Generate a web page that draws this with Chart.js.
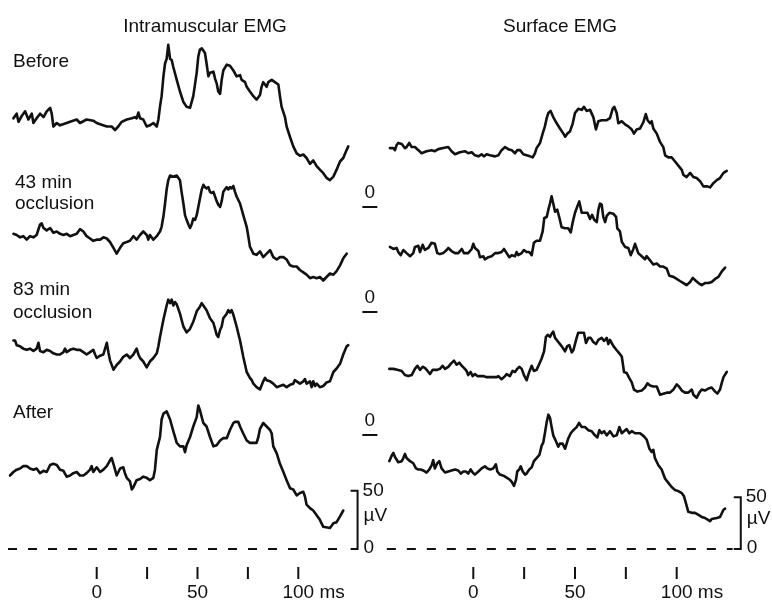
<!DOCTYPE html>
<html>
<head>
<meta charset="utf-8">
<title>Intramuscular and surface EMG</title>
<script src="https://cdn.jsdelivr.net/npm/chart.js@4.4.1/dist/chart.umd.min.js"></script>
<style>
  html, body { margin: 0; padding: 0; background: #fff; }
  canvas { display: block; }
</style>
</head>
<body>
<canvas id="chart" width="772" height="603"></canvas>
<script>
// traces as [ms, µV], µV counted from each row's own zero level
const imBefore = [[-41.3,76],[-39.7,80],[-38.8,73],[-37.2,78],[-35.5,82],[-33.9,75],[-32.2,80],[-31.4,72],[-29.8,76],[-28.1,80],[-26.4,77],[-24.8,82],[-23.1,85],[-22.3,80],[-21.5,69],[-19.8,72],[-18.2,70],[-14.9,72],[-13.2,73],[-9.9,75],[-8.3,72],[-5,75],[-1.7,74],[0,72],[1.7,71],[5,69],[7.4,69],[9.1,66],[10.7,69],[12.4,73],[14.9,75],[17.4,76],[19,77],[19.8,76],[20.7,81],[21.5,76],[23.1,75],[24.8,69],[26.4,70],[28.1,72],[29.8,69],[30.6,75],[31.4,86],[32.2,95],[33.1,112],[33.9,123],[34.7,127],[35.5,139],[36.4,127],[37.2,126],[38,120],[39.7,109],[41.3,99],[43,90],[44.6,86],[46.3,85],[47.9,95],[49.6,115],[50.4,129],[51.2,135],[52.1,136],[53.7,132],[54.5,123],[55.4,112],[56.2,115],[57.9,116],[58.7,110],[59.5,106],[60.3,99],[61.2,97],[62,109],[62.8,117],[64.5,122],[66.1,121],[67.8,117],[69.4,112],[71.1,113],[71.9,109],[73.6,107],[74.4,103],[76,99],[77.7,95],[79.3,92],[81,96],[81.8,103],[82.6,107],[84.3,103],[85.1,107],[86.8,109],[88.4,107],[90.1,105],[90.9,95],[91.7,86],[93.4,77],[94.2,69],[95.9,60],[97.5,52],[99.2,46],[100.8,44],[102.5,45],[104.1,42],[105.8,37],[107.4,40],[109.1,35],[110.7,32],[112.4,29],[114,25],[115.7,23],[117.4,26],[119,32],[120.7,39],[122.3,42],[124,49],[124.8,52]];
const im43 = [[-41.3,67],[-39.7,66],[-38,64],[-36.4,65],[-34.7,62],[-33.1,65],[-31.4,64],[-29.8,66],[-28.1,75],[-27.3,76],[-26.4,72],[-24.8,70],[-23.1,72],[-21.5,68],[-19.8,69],[-18.2,67],[-16.5,66],[-14.9,67],[-13.2,65],[-11.6,66],[-9.9,67],[-8.3,71],[-6.6,69],[-5,65],[-3.3,63],[-1.7,61],[0,62],[1.7,62],[3.3,64],[5,63],[6.6,60],[8.3,55],[9.9,50],[11.6,55],[13.2,59],[14.9,60],[16.5,61],[18.2,65],[19.8,62],[21.5,66],[23.1,69],[24.8,66],[25.6,62],[26.4,66],[28.1,62],[29.8,65],[30.6,67],[31.4,69],[32.2,73],[33.1,82],[33.9,93],[34.7,105],[35.5,113],[36.4,117],[38,116],[39.7,117],[41.3,113],[42.1,103],[43,93],[43.8,83],[44.6,79],[45.5,75],[46.3,72],[47.1,75],[47.9,80],[48.8,79],[49.6,83],[50.4,90],[51.2,97],[52.1,105],[52.9,109],[53.7,107],[54.5,106],[55.4,107],[56.2,103],[57,102],[57.9,103],[58.7,99],[59.5,95],[60.3,92],[61.2,90],[62,95],[62.8,103],[63.6,105],[64.5,107],[65.3,105],[66.1,107],[66.9,106],[67.8,108],[68.6,103],[69.4,99],[71.1,93],[72.7,83],[74.4,73],[75.2,65],[76,56],[77.7,50],[79.3,49],[81,52],[82.6,47],[84.3,50],[86,53],[87.6,47],[89.3,45],[90.9,47],[92.6,47],[94.2,45],[95.9,40],[97.5,39],[99.2,39],[100.8,36],[102.5,34],[104.1,32],[105.8,29],[107.4,30],[109.1,29],[110.7,30],[112.4,27],[114,30],[115.7,33],[117.4,32],[119,35],[120.7,40],[122.3,46],[124,50]];
const im83 = [[-41.3,81],[-40.5,81],[-39.7,77],[-38,76],[-36.4,74],[-34.7,73],[-33.1,74],[-31.4,72],[-29.8,74],[-28.9,79],[-28.1,72],[-26.4,71],[-24.8,73],[-23.1,72],[-21.5,70],[-19.8,69],[-18.2,69],[-16.5,71],[-15.7,74],[-14.9,71],[-13.2,73],[-11.6,74],[-9.9,73],[-8.3,73],[-6.6,71],[-5,69],[-3.3,71],[-1.7,73],[-0.8,69],[0,66],[1.7,68],[3.3,69],[5,79],[5.8,71],[6.6,64],[8.3,56],[9.9,60],[11.6,63],[13.2,67],[14.9,69],[16.5,66],[18.2,69],[19.8,74],[20.7,69],[21.5,66],[23.1,63],[24.8,58],[26.4,63],[28.1,66],[29.8,70],[30.6,76],[31.4,84],[33.1,99],[34.7,111],[35.5,116],[36.4,113],[37.2,116],[38,111],[38.8,114],[39.7,112],[41.3,104],[43,93],[44.6,88],[46.3,91],[47.9,97],[49.6,106],[51.2,110],[52.1,113],[52.9,111],[54.5,107],[56.2,100],[57.9,96],[59.5,86],[60.3,84],[61.2,90],[62,93],[62.8,100],[64.5,104],[65.3,107],[66.1,105],[66.9,107],[67.8,103],[69.4,93],[71.1,81],[72.7,67],[74.4,54],[76,49],[76.9,47],[77.7,44],[79.3,41],[81,39],[82.6,46],[83.5,49],[84.3,47],[86,46],[87.6,44],[89.3,41],[90.9,42],[92.6,43],[94.2,41],[95.9,43],[97.5,44],[98.3,47],[99.2,46],[100.8,44],[102.5,46],[103.3,48],[104.1,44],[105.8,46],[106.6,41],[107.4,46],[108.3,42],[109.1,44],[110.7,41],[112.4,42],[114,45],[115.7,46],[117.4,54],[119,57],[120.7,61],[122.3,69],[124,76],[124.8,77]];
const imAfter = [[-43,63],[-41.3,66],[-39.7,68],[-38,69],[-36.4,71],[-34.7,71],[-33.1,69],[-31.4,68],[-29.8,69],[-28.1,65],[-26.4,67],[-24.8,66],[-23.1,72],[-21.5,73],[-19.8,72],[-18.2,68],[-16.5,67],[-14.9,62],[-13.2,63],[-11.6,65],[-9.9,66],[-8.3,63],[-6.6,63],[-5,65],[-3.3,68],[-2.5,71],[-1.7,66],[0,70],[1.7,66],[3.3,68],[5,71],[6.6,76],[7.4,78],[8.3,73],[9.1,68],[9.9,63],[11.6,69],[13.2,70],[14,65],[14.9,61],[16.5,58],[17.4,51],[18.2,53],[19.8,59],[21.5,60],[23.1,62],[24.8,61],[26.4,59],[28.1,61],[28.9,68],[29.8,85],[31.4,96],[32.2,111],[33.1,116],[34.7,118],[36.4,111],[38,101],[39.7,91],[41.3,88],[43,88],[43.8,83],[44.6,89],[46.3,96],[47.9,105],[49.6,113],[50.4,123],[51.2,119],[52.1,113],[52.9,108],[54.5,105],[56.2,96],[57.9,88],[59.5,89],[61.2,93],[62.8,95],[64.5,95],[66.1,102],[67.8,108],[68.6,109],[70.2,109],[71.1,105],[72.7,99],[74.4,93],[76,91],[77.7,91],[79.3,91],[80.2,96],[81,103],[82.6,108],[84.3,105],[86,102],[86.8,99],[87.6,88],[89.3,82],[90.9,73],[92.6,66],[94.2,59],[95.9,52],[97.5,51],[99.2,46],[100.8,48],[102.5,49],[103.3,45],[104.1,38],[105.8,35],[107.4,33],[109.1,29],[110.7,25],[112.4,19],[115.7,18],[117.4,22],[119,23],[120.7,28],[122.3,33]];

const sfBefore = [[-41,57],[-39.3,57],[-38.5,55],[-37.7,60],[-36.9,62],[-35.2,61],[-33.6,57],[-32.8,58],[-31.5,62],[-30.3,58],[-28.7,58],[-27,55],[-25.4,52],[-23,54],[-20.5,55],[-18.9,54],[-17.2,56],[-14.8,57],[-12.3,58],[-10.7,54],[-9,51],[-6.6,53],[-4.1,54],[-2.5,52],[-0.8,53],[0.8,50],[2.5,49],[4.1,51],[5.2,49],[6.6,51],[8.2,50],[10.7,49],[12.3,50],[13.9,55],[15.6,58],[17.2,56],[18.9,55],[20.5,52],[21.6,55],[23,55],[24.6,51],[26.2,50],[27.9,49],[29.2,48],[30.3,52],[31.1,57],[32.8,62],[34.1,71],[35.2,78],[36.1,86],[36.9,91],[38,93],[39.3,87],[41,81],[42.6,76],[44.3,71],[45.2,68],[46.2,71],[47.5,73],[48.9,81],[50,91],[51.6,95],[53.3,94],[54.4,97],[55.7,93],[57.4,94],[59,87],[60.3,75],[61.5,83],[63.1,84],[65.6,84],[67.2,86],[68.5,95],[69.3,97],[70.5,91],[71.3,81],[73,83],[74.6,80],[76.2,78],[77.9,75],[79,71],[80.3,75],[82,76],[83.6,82],[84.8,90],[85.7,84],[86.9,81],[87.7,83],[88.5,76],[90.2,71],[91.8,63],[93.4,58],[94.3,50],[95.9,48],[97.5,48],[99.2,44],[100.8,40],[102.5,36],[103.3,31],[104.9,29],[106.6,33],[108.2,29],[109.8,28],[111.5,25],[113.1,20],[114.8,20],[116.4,19],[118,23],[119.7,26],[121.3,28],[123,33],[124.6,35]];
const sf43 = [[-41,63],[-39.3,61],[-37.7,62],[-36.9,58],[-35.7,55],[-34.4,60],[-32.8,57],[-31.1,54],[-29.5,57],[-28.7,63],[-27,64],[-26.2,58],[-24.9,65],[-23.8,60],[-22.1,62],[-20.5,67],[-18.9,66],[-17.7,57],[-16.4,56],[-14.8,57],[-13.1,60],[-12.3,62],[-10.7,59],[-9,57],[-7.4,57],[-5.7,61],[-4.6,57],[-2.5,57],[-0.8,61],[0,66],[0.8,62],[2.5,59],[3.3,53],[4.9,54],[5.7,51],[7.4,53],[9,54],[10.7,57],[12.3,57],[13.9,58],[15.1,61],[16.4,57],[17.7,53],[18.9,55],[20.5,54],[21.3,58],[22.1,55],[23.8,57],[24.9,60],[26.2,58],[27.5,58],[28.7,55],[29.8,67],[31.1,69],[32.8,69],[34.1,78],[34.9,91],[36.1,92],[36.9,99],[37.7,105],[38.5,112],[39.3,105],[40.2,97],[41.3,99],[42.6,89],[43.4,82],[45.1,81],[46.7,81],[47.9,77],[48.9,87],[50,96],[51.1,102],[52.1,107],[53.3,96],[54.4,96],[56.1,96],[57.4,90],[58.4,94],[59.5,89],[60.7,87],[61.5,99],[62.3,105],[63.1,104],[63.9,92],[64.8,87],[65.6,93],[66.9,96],[68.9,95],[70.2,92],[70.8,81],[72.1,78],[73,68],[74.6,63],[76.2,62],[77.4,55],[78.7,61],[79.5,66],[81.1,57],[82.8,54],[84.4,51],[85.2,54],[86.9,50],[88.5,46],[90.2,47],[91.8,44],[93.4,44],[95.1,42],[96.4,35],[98.4,34],[100,32],[101.6,30],[103.3,28],[104.9,26],[106.6,29],[107.9,33],[109.5,30],[110.7,28],[112.3,26],[113.9,28],[115.6,28],[117.2,29],[118.9,32],[120.5,34],[122.1,39],[123.8,43]];
const sf83 = [[-41.3,64],[-39.3,64],[-36.9,63],[-35.2,62],[-33.6,58],[-32,57],[-30.3,58],[-28.7,64],[-27.5,67],[-26.2,63],[-24.9,66],[-23.8,65],[-22.5,62],[-21.3,59],[-20,63],[-18,63],[-16.4,64],[-15.1,67],[-13.9,64],[-12.3,66],[-11,69],[-9.5,72],[-8.2,68],[-6.9,70],[-5.7,67],[-4.6,65],[-3.3,62],[-2.5,58],[-1.3,61],[-0.3,57],[0.8,59],[2,57],[3.3,57],[4.9,57],[6.6,56],[8.2,56],[9.8,56],[11.5,56],[12.3,57],[13.9,54],[15.6,57],[16.4,59],[18,57],[19.3,62],[20.5,61],[21.6,64],[22.6,66],[23.8,64],[24.9,58],[26.2,53],[27.5,61],[28.7,67],[29.8,62],[31.1,63],[32.5,69],[33.6,74],[34.8,81],[35.7,95],[36.6,97],[37.7,95],[38.5,98],[39.3,100],[40.2,94],[41.8,90],[43.4,86],[45.1,81],[46.2,86],[47.2,87],[48.4,80],[49.2,82],[50.8,94],[51.6,99],[53.3,99],[54.4,99],[55.4,89],[56.6,94],[57.7,94],[59,90],[60.3,88],[61.5,92],[63.1,94],[64.3,91],[65.6,94],[66.4,88],[67.2,92],[68.9,86],[70.5,82],[71.8,79],[73,76],[74.1,61],[75.4,60],[76.7,55],[77.9,51],[79,44],[80.7,42],[82.8,43],[84.4,46],[85.6,50],[86.9,48],[88.5,47],[90.2,47],[91.8,39],[93.4,40],[95.1,41],[96.7,41],[98.4,44],[100,49],[101.1,47],[102.5,43],[104.1,41],[105.7,41],[107.4,44],[108.2,39],[109.8,36],[111.1,41],[112.3,44],[113.9,43],[115.6,45],[117.2,46],[118.9,42],[120,40],[121.3,44],[122.1,50],[123,56],[124.6,61]];
const sfAfter = [[-41.3,85],[-40.2,90],[-39.3,93],[-38.5,89],[-36.9,84],[-35.2,85],[-34.4,88],[-33.6,92],[-32.8,88],[-31.1,85],[-29.5,83],[-28.2,78],[-27,77],[-25.9,77],[-24.6,76],[-23,74],[-21.6,77],[-20.5,81],[-19.7,86],[-18.9,78],[-17.7,83],[-16.7,85],[-15.6,78],[-13.9,74],[-12.3,75],[-10.7,76],[-9,77],[-7.4,76],[-6.1,73],[-4.9,75],[-3.6,75],[-2.5,73],[-1.3,77],[-0.3,74],[0.8,72],[2.5,75],[4.1,78],[5.7,80],[6.9,78],[8.2,77],[9.8,78],[11.1,82],[11.8,75],[13.1,72],[14.8,71],[16.4,69],[18,67],[18.9,65],[20,61],[21,67],[21.6,75],[22.6,77],[23.3,80],[24.3,75],[25.4,72],[26.2,73],[27.5,77],[28.7,79],[29.8,85],[31.1,88],[32.5,91],[33.6,100],[34.4,103],[35.2,112],[36.1,123],[36.9,130],[37.7,127],[38.5,118],[39.3,110],[40.7,104],[41.8,99],[42.6,102],[43.9,102],[45.1,97],[45.9,102],[46.7,107],[47.9,112],[49.2,115],[50.8,118],[52,122],[53.3,118],[54.9,118],[56.6,115],[58.2,114],[59.8,110],[61,108],[62,115],[63.1,112],[64.3,114],[65.6,110],[67.2,114],[68.9,109],[70.5,110],[71.8,118],[73,112],[74.1,114],[75.4,116],[76.7,112],[77.9,114],[79.5,112],[82,112],[83.9,109],[85.2,106],[86.6,97],[87.7,94],[88.5,96],[89.3,88],[91,81],[92.6,77],[94.3,68],[95.9,64],[97.5,60],[99.2,57],[100.8,56],[102.5,54],[103.6,51],[104.6,44],[105.7,36],[107.4,35],[109,35],[110.7,33],[112.3,31],[113.9,30],[115.6,28],[116.4,27],[117.2,29],[119.7,30],[121.3,31],[123,38],[123.8,39]];

const columnTitles = ['Intramuscular EMG', 'Surface EMG'];
const rowLabels = [['Before'], ['43 min', 'occlusion'], ['83 min', 'occlusion'], ['After']];
const tickMs = [0, 25, 50, 75, 100];
const tickText = ['0', '', '50', '', '100'];
const timeUnit = 'ms';
const scaleBarUV = 50;
const baselineMs = [[-44, 124.5], [-42.5, 127.5]];

// layout in pixels
const W = 772, H = 603;
const INK = '#111';
const FONT = '19px "Liberation Sans", Arial, sans-serif';
const rowZero = [207, 312, 435, 549];
const cols = [
  { zeroX: 96.7, pxPerMs: 2.016, pxPerUV: 1.1667, traces: [imBefore, im43, im83, imAfter], titleX: 205, barMs: 129.4 },
  { zeroX: 473.3, pxPerMs: 2.034, pxPerUV: 1.0333, traces: [sfBefore, sf43, sf83, sfAfter], titleX: 560, barMs: 131.5 }
];
const labelLines = [[67], [188, 209], [295, 318], [418]];
const markerMs = 135.5;

const scales = {};
const datasets = [];
cols.forEach((c, ci) => {
  scales['x' + ci] = { type: 'linear', display: false, bounds: 'data',
    min: -c.zeroX / c.pxPerMs, max: (W - c.zeroX) / c.pxPerMs };
  rowZero.forEach((z, ri) => {
    scales['y' + ci + ri] = { type: 'linear', display: false, bounds: 'data',
      min: -(H - z) / c.pxPerUV, max: z / c.pxPerUV };
  });
  c.traces.forEach((tr, ri) => {
    datasets.push({
      data: tr.map(p => ({ x: p[0], y: p[1] })),
      xAxisID: 'x' + ci, yAxisID: 'y' + ci + ri,
      borderColor: INK, borderWidth: 2.6, pointRadius: 0, tension: 0, fill: false,
      borderJoinStyle: 'round', borderCapStyle: 'round'
    });
  });
  datasets.push({
    data: baselineMs[ci].map(t => ({ x: t, y: 0 })),
    xAxisID: 'x' + ci, yAxisID: 'y' + ci + '3',
    borderColor: INK, borderWidth: 2, borderDash: [9, 11], pointRadius: 0
  });
});

const decor = {
  id: 'decor',
  afterDraw(chart) {
    const ctx = chart.ctx;
    const s = chart.scales;
    ctx.save();
    ctx.fillStyle = INK;
    ctx.strokeStyle = INK;
    ctx.font = FONT;
    ctx.textBaseline = 'alphabetic';

    // column titles
    ctx.textAlign = 'center';
    cols.forEach((c, ci) => ctx.fillText(columnTitles[ci], c.titleX, 32));

    // row labels
    ctx.textAlign = 'left';
    rowLabels.forEach((lines, ri) => {
      lines.forEach((txt, li) => ctx.fillText(txt, ri === 1 ? 15 : 13, labelLines[ri][li]));
    });

    // zero markers between the columns
    ctx.lineWidth = 2;
    const mx = s.x0.getPixelForValue(markerMs);
    for (let ri = 0; ri < 3; ri++) {
      const y = s['y0' + ri].getPixelForValue(0);
      ctx.beginPath();
      ctx.moveTo(mx - 7.5, y);
      ctx.lineTo(mx + 7.5, y);
      ctx.stroke();
      ctx.textAlign = 'center';
      ctx.fillText('0', mx, y - 9);
    }

    cols.forEach((c, ci) => {
      const xs = s['x' + ci];
      // time ticks
      ctx.lineWidth = 2;
      tickMs.forEach((t, i) => {
        const x = xs.getPixelForValue(t);
        ctx.beginPath();
        ctx.moveTo(x, 567);
        ctx.lineTo(x, 579);
        ctx.stroke();
        if (!tickText[i]) return;
        ctx.textAlign = 'center';
        ctx.fillText(tickText[i], x, 598);
        if (i === tickMs.length - 1) {
          ctx.textAlign = 'left';
          ctx.fillText(' ' + timeUnit, x + ctx.measureText(tickText[i]).width / 2, 598);
        }
      });

      // amplitude scale bar
      const ys = s['y' + ci + '3'];
      const bx = xs.getPixelForValue(c.barMs);
      const y0 = ys.getPixelForValue(0);
      const y1 = ys.getPixelForValue(scaleBarUV);
      ctx.beginPath();
      ctx.moveTo(bx - 7, y1);
      ctx.lineTo(bx, y1);
      ctx.lineTo(bx, y0);
      ctx.lineTo(bx - 7, y0);
      ctx.stroke();
      ctx.textAlign = 'left';
      ctx.fillText(String(scaleBarUV), bx + 5, y1 + 5);
      ctx.fillText('\u00b5V', bx + 6, (y0 + y1) / 2 + 1);
      ctx.fillText('0', bx + 6, y0 + 4);
    });
    ctx.restore();
  }
};

new Chart(document.getElementById('chart'), {
  type: 'line',
  data: { datasets: datasets },
  options: {
    responsive: false,
    animation: false,
    events: [],
    layout: { padding: 0 },
    plugins: { legend: { display: false }, tooltip: { enabled: false } },
    scales: scales
  },
  plugins: [decor]
});
</script>
</body>
</html>
